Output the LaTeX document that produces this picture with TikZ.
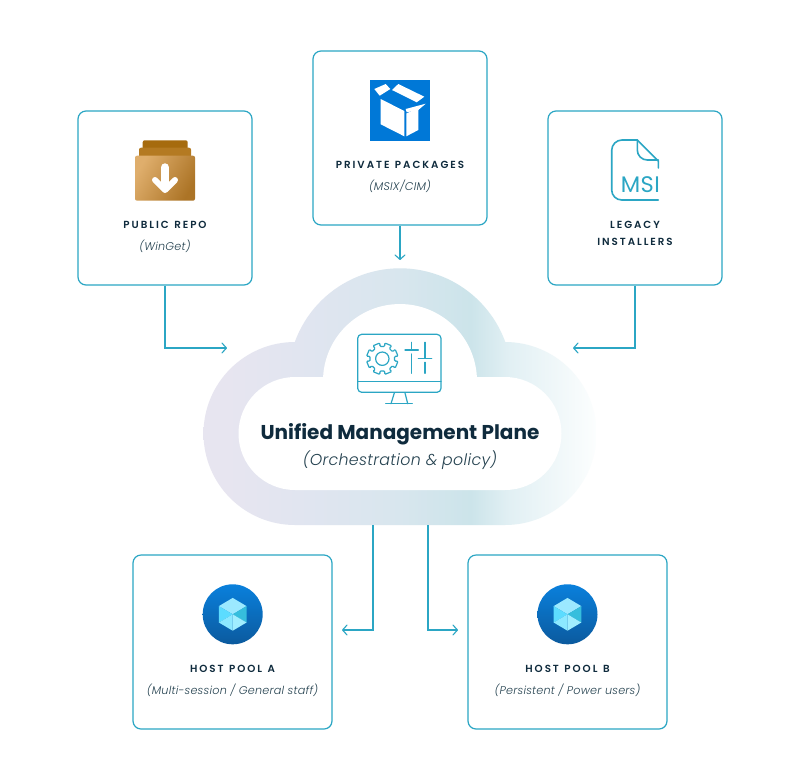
\documentclass[tikz,border=0pt]{standalone}
\usepackage{fontspec}
\setmainfont{Poppins}
\newfontfamily\capsfont[LetterSpace=19,WordSpace=1.25]{Poppins SemiBold}
\newfontfamily\subfont[LetterSpace=2]{Poppins Light Italic}
\newfontfamily\titlefont{Poppins Bold}
\newfontfamily\lightfont[LetterSpace=2]{Poppins}
\usetikzlibrary{arrows.meta}
\definecolor{teal1}{HTML}{2BA6C4}
\definecolor{ink}{HTML}{0F2B3D}
\definecolor{sub}{HTML}{24414F}
\definecolor{cA}{HTML}{E7E5F0}
\definecolor{cB}{HTML}{E1E5F0}
\definecolor{cC}{HTML}{D8E6EE}
\definecolor{cD}{HTML}{CCE4EA}
\definecolor{cE}{HTML}{E2F0F4}
\definecolor{cF}{HTML}{FCFEFE}
\pgfdeclarehorizontalshading{cloudgrad}{100bp}{
  color(0bp)=(cA); color(25bp)=(cA); color(28bp)=(cA); color(37bp)=(cB);
  color(50bp)=(cC); color(59bp)=(cD); color(64bp)=(cE); color(75bp)=(cF); color(100bp)=(cF)}
\tikzset{
  card/.style={draw=teal1,line width=1.2pt,rounded corners=8pt,fill=white,inner sep=0pt},
  capslabel/.style={anchor=base,inner sep=0pt,text=ink,font=\capsfont\fontsize{10.3}{12}\selectfont},
  sublabel/.style={anchor=base,inner sep=0pt,text=sub,font=\subfont\fontsize{11.2}{13}\selectfont},
  conn/.style={draw=teal1,line width=1.1pt},
  flow/.style={conn,-{Straight Barb[length=4.5pt,width=10pt,line width=1.1pt,round]}},
  icon/.style={draw=teal1,line width=1.2pt,line cap=round,line join=round},
}
\definecolor{cubeA}{HTML}{0A80DC}
\definecolor{cubeB}{HTML}{0B5A9E}
\definecolor{faceT}{HTML}{9CE9FF}
\definecolor{faceL}{HTML}{5CDCFF}
\definecolor{faceR}{HTML}{36BEDD}
\definecolor{faceBL}{HTML}{8CE8FF}
\definecolor{faceBR}{HTML}{A0EEFF}
\definecolor{blueBox}{HTML}{0078D7}
\definecolor{brownA}{HTML}{A66B0E}
\definecolor{brownB}{HTML}{B47A22}
\definecolor{brownC}{HTML}{DFAE6C}
\definecolor{brownD}{HTML}{AC7426}
\newcommand{\hexcube}[2]{%
  \begin{scope}[shift={(#1,#2)}]
    \shade[top color=cubeA,bottom color=cubeB] (0,0) circle (30);
    \fill[faceT] (0,0) -- (-13.8,-8.2) -- (0,-16.4) -- (13.8,-8.2) -- cycle;
    \fill[faceL] (0,0) -- (-13.8,-8.2) -- (-13.8,8.2) -- cycle;
    \fill[faceR] (0,0) -- (13.8,-8.2) -- (13.8,8.2) -- cycle;
    \fill[faceBL] (0,0) -- (-13.8,8.2) -- (0,16.4) -- cycle;
    \fill[faceBR] (0,0) -- (13.8,8.2) -- (0,16.4) -- cycle;
  \end{scope}}
\begin{document}
\begin{tikzpicture}[x=1pt,y=-1pt]
\useasboundingbox (0,0) rectangle (800,780);
\fill[white] (0,0) rectangle (800,780);

% cloud
\begin{scope}
  \clip (295,525) arc[start angle=90,end angle=270,radius=91.5]
     -- (294.8,342) arc[start angle=-160,end angle=-20,radius=112] -- (505,342)
     arc[start angle=-90,end angle=90,radius=91.5] -- cycle;
  \shade[shading=cloudgrad] (203.5,260) rectangle (596.5,530);
\end{scope}
\fill[white] (295,490) arc[start angle=90,end angle=270,radius=56.5]
     -- (323.1,377) arc[start angle=-177,end angle=-3,radius=77] -- (505,377)
     arc[start angle=-90,end angle=90,radius=56.5] -- cycle;
\node[minimum width=393pt,minimum height=256pt,inner sep=0pt] (cloud) at (400,397) {};

% cards
\node[card,minimum width=174pt,minimum height=174pt] (pub) at (165,198) {};
\node[card,minimum width=174pt,minimum height=174pt] (priv) at (400,138) {};
\node[card,minimum width=174pt,minimum height=174pt] (leg) at (635,198) {};
\node[card,minimum width=199pt,minimum height=174pt] (hostA) at (232.5,642) {};
\node[card,minimum width=199pt,minimum height=174pt] (hostB) at (567.5,642) {};

% connectors
\coordinate (pubEnd) at (227,348);
\coordinate (legEnd) at (573,348);
\coordinate (privEnd) at (400,260);
\coordinate (aStart) at (373,525);
\coordinate (bStart) at (428,525);
\coordinate (aEnd) at (342,630);
\coordinate (bEnd) at (458,630);
\draw[flow] (pub.south) |- (pubEnd);
\draw[flow] (leg.south) |- (legEnd);
\draw[flow] (priv.south) -- (privEnd);
\draw[flow] (aStart) |- (aEnd);
\draw[flow] (bStart) |- (bEnd);

% folder icon
\fill[brownA,rounded corners=2pt] (142.7,140.3) rectangle (187.7,152);
\fill[brownB,rounded corners=2pt] (139,147.7) rectangle (191,158);
\shade[rounded corners=2pt,left color=brownC,right color=brownD,shading angle=60] (135,155.7) rectangle (195,200.7);
\draw[white,line width=8.5pt,line cap=round] (165,167.5) -- (165,186);
\draw[white,line width=6pt,line cap=round,line join=round] (155,180) -- (165,190) -- (175,180);

% box icon
\fill[blueBox] (370,80) rectangle (430,140.5);
\fill[white] (374.3,89) -- (385.7,84) -- (390.3,89) -- (379.7,95.7) -- cycle;
\fill[white] (392,90) -- (398.3,84) -- (424.3,96.7) -- (416.7,102.3) -- cycle;
\fill[white] (380.7,99) -- (404.3,111) -- (404.3,136.3) -- (380.7,124.3) -- cycle;
\fill[white] (406.3,113.5) -- (418.3,108) -- (418.3,130) -- (406.3,136.3) -- cycle;
\fill[white] (405.7,109) -- (425.7,103.7) -- (418.3,110) -- (406.7,112.3) -- cycle;

% MSI icon
\draw[icon,line width=1.6pt] (637.3,140) -- (622,140) arc[start angle=-90,end angle=-180,radius=10.3]
   -- (611.7,190) arc[start angle=180,end angle=90,radius=10] -- (658.3,200);
\draw[icon,line width=1.6pt] (637.3,140) -- (658.3,161) -- (658.3,168);
\draw[icon,line width=1.6pt] (637.3,140) -- (637.3,150) arc[start angle=180,end angle=90,radius=10] -- (658.3,160);
\node[anchor=base east,inner sep=0pt,text=teal1,font=\lightfont\fontsize{22.5}{24}\selectfont] (msi) at (660,192) {MSI};

% monitor icon
\draw[icon,rounded corners=4pt] (357.7,334.3) rectangle (441,392.3);
\draw[icon] (357.7,381.7) -- (441,381.7);
\draw[icon] (394.3,393) -- (391,403.7);
\draw[icon] (405,393) -- (407.7,403.7);
\draw[icon] (385.7,403.7) -- (412.3,403.7);
\draw[icon] (382.3,358.7) circle (6.7);
\begin{scope}[shift={(382.3,358.7)}]
  \draw[icon,rounded corners=1.2pt] (12:12.5)
    \foreach \a in {0,45,...,315} {
      -- ({\a+12}:12.5) -- ({\a+8}:16) -- ({\a+37}:16) -- ({\a+33}:12.5)
    } -- cycle;
\end{scope}
\draw[icon] (411.7,342.3) -- (411.7,349);
\draw[icon] (405,350) -- (418.3,350);
\draw[icon] (411.7,354) -- (411.7,373.3);
\draw[icon] (425,342.3) -- (425,357.7);
\draw[icon] (418.3,358.3) -- (431.7,358.3);
\draw[icon] (425,362.3) -- (425,373.3);

% hex icons
\hexcube{232.7}{614.3}
\hexcube{567.5}{614.3}

% labels
\node[capslabel] (t1) at (165,228.3) {PUBLIC REPO};
\node[sublabel] (t2) at (165,250) {(WinGet)};
\node[capslabel] (t3) at (400,168.3) {PRIVATE PACKAGES};
\node[sublabel] (t4) at (400,190.5) {(MSIX/CIM)};
\node[capslabel] (t5) at (635,228.3) {LEGACY};
\node[capslabel] (t6) at (635,245.3) {INSTALLERS};
\node[capslabel] (t7) at (232.5,672.3) {HOST POOL A};
\node[sublabel] (t8) at (232.5,694) {(Multi-session / General staff)};
\node[capslabel] (t9) at (567.5,672.3) {HOST POOL B};
\node[sublabel] (t10) at (567.5,694) {(Persistent / Power users)};
\node[anchor=base,inner sep=0pt,text=ink,font=\titlefont\fontsize{20}{22}\selectfont] (title) at (400,439) {Unified Management Plane};
\node[anchor=base,inner sep=0pt,text=sub,font=\subfont\fontsize{15.8}{18}\selectfont] (subtitle) at (400,465) {(Orchestration \& policy)};
\end{tikzpicture}
\end{document}
